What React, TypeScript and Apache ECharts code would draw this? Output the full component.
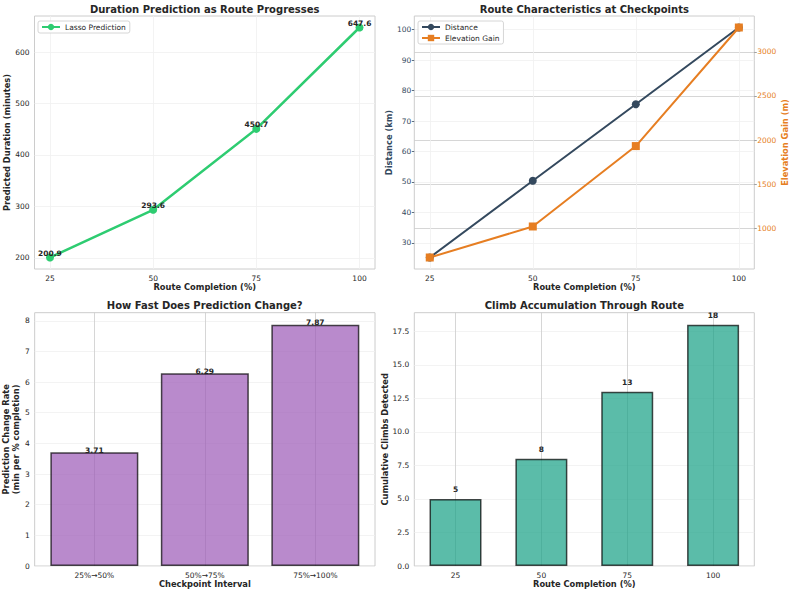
import React, { useEffect, useRef } from 'react';
import * as echarts from 'echarts';

const completion = [25, 50, 75, 100];
const predicted = [200.9, 293.6, 450.7, 647.6];
const distance = [25.2, 50.4, 75.5, 100.7];
const elevation = [672, 1023, 1933, 3275];
const intervals = ['25%→50%', '50%→75%', '75%→100%'];
const rates = [3.71, 6.29, 7.87];
const climbs = [5, 8, 13, 18];

const completionTicks = [25, 50, 75, 100];
const durationTicks = [200, 300, 400, 500, 600];
const distanceTicks = [30, 40, 50, 60, 70, 80, 90, 100];
const elevationTicks = [1000, 1500, 2000, 2500, 3000];
const rateTicks = [0, 1, 2, 3, 4, 5, 6, 7, 8];
const climbTicks = [0, 2.5, 5, 7.5, 10, 12.5, 15, 17.5];

const FONT = 'DejaVu Sans';
const TXT = '#262626';
const FAINT = '#f0f0f0';
const GRID = '#cccccc';

const pad = (arr: number[]) => {
  const lo = Math.min(...arr);
  const hi = Math.max(...arr);
  const p = (hi - lo) * 0.05;
  return [lo - p, hi + p];
};

export default function App() {
  const ref = useRef<HTMLDivElement>(null);
  useEffect(() => {
    if (!ref.current) return;
    const chart = echarts.init(ref.current, undefined, { renderer: 'svg' });
    const xr = pad(completion);
    const yr1 = pad(predicted);
    const yr2 = pad(distance);
    const yr3 = pad(elevation);
    const catIdx3 = intervals.map((_, i) => i);
    const catIdx4 = climbs.map((_, i) => i);

    const tickLabel = (extra: any = {}) => ({
      fontSize: 7.5,
      color: TXT,
      fontFamily: FONT,
      margin: 5,
      ...extra,
    });
    const nameStyle = (color = TXT) => ({
      fontSize: 8.3,
      fontWeight: 'bold',
      color,
      fontFamily: FONT,
    });
    const sl = (color: string, width = 0.8) => ({ show: true, lineStyle: { color, width } });

    const titles = [
      { text: 'Duration Prediction as Route Progresses', x: 204.7, y: 9 },
      { text: 'Route Characteristics at Checkpoints', x: 584.3, y: 9 },
      { text: 'How Fast Does Prediction Change?', x: 204.7, y: 305.7 },
      { text: 'Climb Accumulation Through Route', x: 584.3, y: 305.7 },
    ];

    const option: any = {
      animation: false,
      backgroundColor: '#ffffff',
      textStyle: { fontFamily: FONT },
      graphic: titles.map((t) => ({
        type: 'text',
        x: t.x,
        y: t.y,
        style: {
          text: t.text,
          textAlign: 'center',
          textVerticalAlign: 'middle',
          fontSize: 10,
          fontWeight: 'bold',
          fontFamily: FONT,
          fill: TXT,
        },
      })),
      grid: [
        { left: 34.5, top: 16, width: 340.5, height: 253 },
        { left: 414.3, top: 16, width: 340, height: 253 },
        { left: 34.5, top: 312.7, width: 340.5, height: 253.3 },
        { left: 414.3, top: 312.7, width: 340, height: 253.3 },
      ].map((g) => ({ ...g, show: true, borderColor: GRID, borderWidth: 1, backgroundColor: 'transparent' })),
      legend: [
        {
          data: ['Lasso Prediction'],
          left: 38,
          top: 21,
          padding: [2, 4, 2, 3],
          itemWidth: 18,
          itemHeight: 8,
          borderColor: GRID,
          borderWidth: 0.8,
          borderRadius: 2,
          backgroundColor: 'rgba(255,255,255,0.85)',
          textStyle: { fontSize: 7.5, color: TXT, fontFamily: FONT },
        },
        {
          data: ['Distance', 'Elevation Gain'],
          orient: 'vertical',
          left: 418,
          top: 21,
          itemGap: 3,
          padding: [2, 4, 2, 3],
          itemWidth: 18,
          itemHeight: 8,
          borderColor: GRID,
          borderWidth: 0.8,
          borderRadius: 2,
          backgroundColor: 'rgba(255,255,255,0.85)',
          textStyle: { fontSize: 7.5, color: TXT, fontFamily: FONT },
        },
      ],
      xAxis: [
        {
          gridIndex: 0,
          type: 'value',
          min: xr[0],
          max: xr[1],
          name: 'Route Completion (%)',
          nameLocation: 'middle',
          nameGap: 14,
          nameTextStyle: nameStyle(),
          axisLine: { show: false },
          axisTick: { show: false, customValues: completionTicks },
          axisLabel: tickLabel({ customValues: completionTicks }),
          splitLine: sl(FAINT),
        },
        {
          gridIndex: 1,
          type: 'value',
          min: xr[0],
          max: xr[1],
          name: 'Route Completion (%)',
          nameLocation: 'middle',
          nameGap: 14,
          nameTextStyle: nameStyle(),
          axisLine: { show: false },
          axisTick: { show: false, customValues: completionTicks },
          axisLabel: tickLabel({ customValues: completionTicks }),
          splitLine: sl(FAINT),
        },
        {
          gridIndex: 2,
          type: 'value',
          min: -0.54,
          max: 2.54,
          name: 'Checkpoint Interval',
          nameLocation: 'middle',
          nameGap: 14,
          nameTextStyle: nameStyle(),
          axisLine: { show: false },
          axisTick: { show: false, customValues: catIdx3 },
          axisLabel: tickLabel({ customValues: catIdx3, formatter: (v: number) => intervals[Math.round(v)] ?? '' }),
          splitLine: sl(GRID),
        },
        {
          gridIndex: 3,
          type: 'value',
          min: -0.48,
          max: 3.48,
          name: 'Route Completion (%)',
          nameLocation: 'middle',
          nameGap: 14,
          nameTextStyle: nameStyle(),
          axisLine: { show: false },
          axisTick: { show: false, customValues: catIdx4 },
          axisLabel: tickLabel({ customValues: catIdx4, formatter: (v: number) => String(completion[Math.round(v)] ?? '') }),
          splitLine: sl(GRID),
        },
      ],
      yAxis: [
        {
          gridIndex: 0,
          type: 'value',
          min: yr1[0],
          max: yr1[1],
          name: 'Predicted Duration (minutes)',
          nameLocation: 'middle',
          nameGap: 21,
          nameTextStyle: nameStyle(),
          axisLine: { show: false },
          axisTick: { show: false, customValues: durationTicks },
          axisLabel: tickLabel({ customValues: durationTicks, formatter: (v: number) => String(v) }),
          splitLine: sl(FAINT),
        },
        {
          gridIndex: 1,
          type: 'value',
          min: yr2[0],
          max: yr2[1],
          name: 'Distance (km)',
          nameLocation: 'middle',
          nameGap: 21,
          nameTextStyle: nameStyle('#34495e'),
          axisLine: { show: false },
          axisTick: { show: true, length: 2.5, lineStyle: { color: '#34495e', width: 0.8 }, customValues: distanceTicks },
          axisLabel: tickLabel({ customValues: distanceTicks, color: '#34495e', margin: 3, formatter: (v: number) => String(v) }),
          splitLine: sl(FAINT),
        },
        {
          gridIndex: 1,
          type: 'value',
          position: 'right',
          min: yr3[0],
          max: yr3[1],
          name: 'Elevation Gain (m)',
          nameLocation: 'middle',
          nameRotate: 90,
          nameGap: 27,
          nameTextStyle: nameStyle('#e67e22'),
          axisLine: { show: false },
          axisTick: { show: true, length: 2.5, lineStyle: { color: '#888', width: 0.8 }, customValues: elevationTicks },
          axisLabel: tickLabel({ customValues: elevationTicks, color: '#e67e22', margin: 3, formatter: (v: number) => String(v) }),
          splitLine: sl(GRID),
        },
        {
          gridIndex: 2,
          type: 'value',
          min: 0,
          max: Math.max(...rates) * 1.05,
          name: 'Prediction Change Rate\n(min per % completion)',
          nameLocation: 'middle',
          nameGap: 11,
          nameTextStyle: { ...nameStyle(), lineHeight: 10 },
          axisLine: { show: false },
          axisTick: { show: false, customValues: rateTicks },
          axisLabel: tickLabel({ customValues: rateTicks, formatter: (v: number) => String(v) }),
          splitLine: sl(FAINT),
        },
        {
          gridIndex: 3,
          type: 'value',
          min: 0,
          max: Math.max(...climbs) * 1.05,
          name: 'Cumulative Climbs Detected',
          nameLocation: 'middle',
          nameGap: 23,
          nameTextStyle: nameStyle(),
          axisLine: { show: false },
          axisTick: { show: false, customValues: climbTicks },
          axisLabel: tickLabel({ customValues: climbTicks, formatter: (v: number) => v.toFixed(1) }),
          splitLine: sl(FAINT),
        },
      ],
      series: [
        {
          name: 'Lasso Prediction',
          type: 'line',
          xAxisIndex: 0,
          yAxisIndex: 0,
          data: completion.map((c, i) => [c, predicted[i]]),
          color: '#2ecc71',
          lineStyle: { width: 2.5, color: '#2ecc71' },
          symbol: 'circle',
          symbolSize: 8,
          label: {
            show: true,
            position: 'inside',
            offset: [0, -4],
            formatter: (p: any) => p.value[1].toFixed(1),
            fontSize: 7.5,
            fontWeight: 'bold',
            color: TXT,
            fontFamily: FONT,
          },
        },
        {
          name: 'Distance',
          type: 'line',
          xAxisIndex: 1,
          yAxisIndex: 1,
          data: completion.map((c, i) => [c, distance[i]]),
          color: '#34495e',
          lineStyle: { width: 2, color: '#34495e' },
          symbol: 'circle',
          symbolSize: 8,
        },
        {
          name: 'Elevation Gain',
          type: 'line',
          xAxisIndex: 1,
          yAxisIndex: 2,
          data: completion.map((c, i) => [c, elevation[i]]),
          color: '#e67e22',
          lineStyle: { width: 2, color: '#e67e22' },
          symbol: 'rect',
          symbolSize: 8,
        },
        {
          name: 'rate',
          type: 'bar',
          xAxisIndex: 2,
          yAxisIndex: 3,
          barWidth: 88,
          data: rates.map((r, i) => [i, r]),
          itemStyle: { color: 'rgba(155,89,182,0.7)', borderColor: 'rgba(0,0,0,0.7)', borderWidth: 1.5 },
          label: {
            show: true,
            position: 'top',
            distance: -2,
            formatter: (p: any) => p.value[1].toFixed(2),
            fontSize: 7.5,
            fontWeight: 'bold',
            color: TXT,
            fontFamily: FONT,
          },
        },
        {
          name: 'climbs',
          type: 'bar',
          xAxisIndex: 3,
          yAxisIndex: 4,
          barWidth: 52,
          data: climbs.map((c, i) => [i, c]),
          itemStyle: { color: 'rgba(22,160,133,0.7)', borderColor: 'rgba(0,0,0,0.7)', borderWidth: 1.5 },
          label: {
            show: true,
            position: 'top',
            distance: 5,
            formatter: (p: any) => String(p.value[1]),
            fontSize: 7.5,
            fontWeight: 'bold',
            color: TXT,
            fontFamily: FONT,
          },
        },
      ],
    };
    chart.setOption(option);
    return () => chart.dispose();
  }, []);
  return <div ref={ref} style={{ position: 'fixed', left: 0, top: 0, width: 793, height: 594 }} />;
}
